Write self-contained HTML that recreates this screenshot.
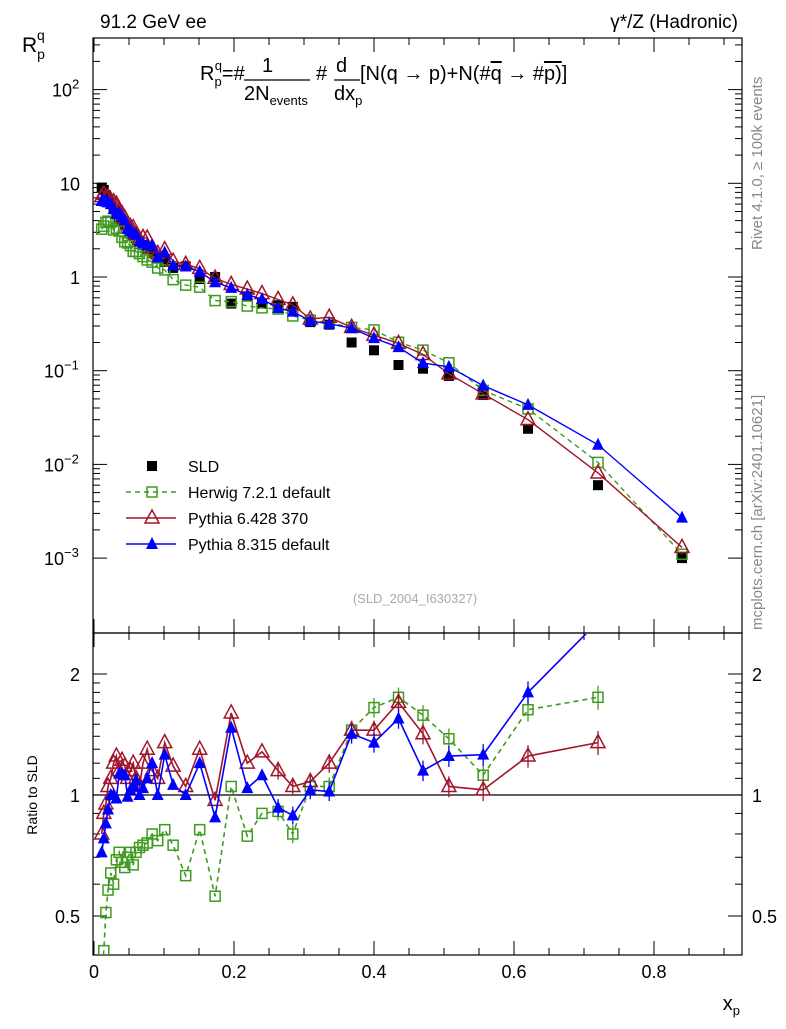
<!DOCTYPE html>
<html><head><meta charset="utf-8"><style>
body{margin:0;background:#fff;}
svg{font-family:"Liberation Sans",sans-serif;}
</style></head><body>
<svg id="c" width="786" height="1024" xmlns="http://www.w3.org/2000/svg">
<rect x="93" y="38" width="649" height="595" fill="none" stroke="#000" stroke-width="1.2"/>
<rect x="93" y="633" width="649" height="322" fill="none" stroke="#000" stroke-width="1.2"/>
<text x="100" y="28" font-size="19">91.2 GeV ee</text>
<text x="738" y="28" font-size="19" text-anchor="end">γ*/Z (Hadronic)</text>
<text x="22" y="52" font-size="21">R<tspan font-size="14" dy="7">p</tspan><tspan font-size="14" dx="-8" dy="-19">q</tspan></text>
<text x="200" y="80" font-size="20">R<tspan font-size="13" dy="6">p</tspan><tspan font-size="13" dx="-7" dy="-16">q</tspan><tspan dy="10">=#</tspan></text>
<text x="262" y="72" font-size="20">1</text>
<line x1="244" y1="80" x2="310" y2="80" stroke="#000" stroke-width="1.2"/>
<text x="244" y="100" font-size="20">2N<tspan font-size="13" dy="5">events</tspan></text>
<text x="316" y="80" font-size="20">#</text>
<text x="336" y="72" font-size="20">d</text>
<line x1="334" y1="80" x2="360" y2="80" stroke="#000" stroke-width="1.2"/>
<text x="334" y="100" font-size="20">dx<tspan font-size="13" dy="5">p</tspan></text>
<text x="360" y="80" font-size="20">[N(q → p)+N(#<tspan text-decoration="overline">q</tspan> → #<tspan text-decoration="overline">p)</tspan>]</text>
<text x="762" y="250" font-size="15" fill="#888" transform="rotate(-90 762 250)">Rivet 4.1.0, ≥ 100k events</text>
<text x="762" y="630" font-size="15" fill="#888" transform="rotate(-90 762 630)">mcplots.cern.ch [arXiv:2401.10621]</text>
<text x="415" y="603" font-size="13" fill="#aaa" text-anchor="middle">(SLD_2004_I630327)</text>
<text x="37" y="795" font-size="14" transform="rotate(-90 37 795)" text-anchor="middle">Ratio to SLD</text>
<text x="740" y="1010" font-size="20" text-anchor="end">x<tspan font-size="13" dy="5">p</tspan></text>
<g id="axes"></g><g id="plot"></g><g id="legend"></g>
</svg>
<script>
const xs=[0.011,0.014,0.017,0.02,0.024,0.028,0.032,0.036,0.04,0.044,0.048,0.052,0.056,0.06,0.065,0.07,0.076,0.083,0.091,0.101,0.113,0.131,0.151,0.173,0.196,0.219,0.24,0.263,0.284,0.309,0.336,0.368,0.40,0.435,0.47,0.507,0.556,0.62,0.72,0.84];
const sld=[9.0,8.5,7.5,6.8,6.0,5.3,4.8,4.3,3.9,3.6,3.3,3.0,2.8,2.6,2.4,2.2,2.0,1.8,1.62,1.45,1.25,1.3,0.95,1.0,0.52,0.62,0.52,0.5,0.48,0.33,0.31,0.2,0.165,0.115,0.105,0.088,0.055,0.024,0.006,0.001];
const ratioHerwig=[.36,.41,.51,.58,.64,.6,.69,.72,.68,.66,.7,.72,.67,.72,.74,.75,.76,.8,.77,.82,.75,.63,.82,.56,1.05,.79,.90,.91,.80,1.05,1.05,1.45,1.65,1.75,1.58,1.38,1.12,1.63,1.75,1.1];
const ratioPy6=[.8,.9,.95,1.05,1.1,1.2,1.25,1.15,1.22,1.18,1.1,1.15,1.2,1.1,1.05,1.2,1.3,1.15,1.1,1.35,1.18,1.05,1.3,0.97,1.6,1.2,1.28,1.15,1.05,1.08,1.2,1.45,1.45,1.7,1.42,1.05,1.03,1.25,1.35,1.3];
const ratioPy8=[.72,.78,.85,.92,1.0,1.0,.98,1.13,1.13,1.12,.99,1.03,1.05,1.09,1.0,1.04,1.1,1.2,1.0,1.26,1.06,1.0,1.2,0.88,1.47,1.04,1.12,0.93,0.89,1.03,1.02,1.42,1.35,1.55,1.15,1.25,1.26,1.8,2.7,2.7];
const xTicks=[0,0.2,0.4,0.6,0.8];
const xTickLabels=["0","0.2","0.4","0.6","0.8"];
const yDecades=[-3,-2,-1,0,1,2];
const yTickExp=["-3","-2","-1","","",""];
const yTickBase=["10","10","10","1","10","10"];
const yTickSup=["−3","−2","−1","","","2"];
const rTicks=[0.5,1,2];
const rTickLabels=["0.5","1","2"];

const NS="http://www.w3.org/2000/svg";
const X=v=>94+700*v;
const Y=v=>277-93.7*Math.log10(v);
const R=r=>795-121*Math.log2(r);
function mk(tag,attrs,parent){const e=document.createElementNS(NS,tag);for(const k in attrs)e.setAttribute(k,attrs[k]);parent.appendChild(e);return e;}
const ax=document.getElementById('axes'),pl=document.getElementById('plot'),lg=document.getElementById('legend');
for(let v=0;v<=0.92;v+=0.05){const maj=Math.abs(v/0.2-Math.round(v/0.2))<1e-6;const l=maj?14:7;
 for(const [yb,yt] of [[633,38],[955,633]]){mk('line',{x1:X(v),x2:X(v),y1:yb,y2:yb-l,stroke:'#000'},ax);mk('line',{x1:X(v),x2:X(v),y1:yt,y2:yt+l,stroke:'#000'},ax);}}
xTicks.forEach((v,i)=>{const t=mk('text',{x:X(v),y:978,'font-size':18,'text-anchor':'middle'},ax);t.textContent=xTickLabels[i];

});
yDecades.forEach((d,i)=>{for(let m=1;m<10;m++){const y=Y(m*Math.pow(10,d));if(y<38||y>633)continue;const l=m==1?14:7;
 mk('line',{x1:93,x2:93+l,y1:y,y2:y,stroke:'#000'},ax);mk('line',{x1:742,x2:742-l,y1:y,y2:y,stroke:'#000'},ax);}
 const sup=yTickSup[i];
 const t=mk('text',{x:sup?(80-(sup.length*8)):80,y:Y(Math.pow(10,d))+7,'font-size':18,'text-anchor':'end'},ax);t.textContent=yTickBase[i];
 
 
 if(sup){const s=mk('text',{x:80-sup.length*8,y:Y(Math.pow(10,d))-1,'font-size':13},ax);s.textContent=sup;}
});
[0.5,0.6,0.7,0.8,0.9,1,1.1,1.2,1.3,1.4,1.5,1.6,1.7,1.8,1.9,2].forEach(r=>{const y=R(r);const l=(r==0.5||r==1||r==2)?14:7;
 mk('line',{x1:93,x2:93+l,y1:y,y2:y,stroke:'#000'},ax);mk('line',{x1:742,x2:742-l,y1:y,y2:y,stroke:'#000'},ax);});
rTicks.forEach((r,i)=>{const t=mk('text',{x:80,y:R(r)+7,'font-size':18,'text-anchor':'end'},ax);t.textContent=rTickLabels[i];


const t2=mk('text',{x:752,y:R(r)+7,'font-size':18},ax);t2.textContent=rTickLabels[i];

});
mk('line',{x1:93,x2:742,y1:R(1),y2:R(1),stroke:'#000','stroke-width':1.2},ax);
const defs=mk('defs',{},pl);
const c1=mk('clipPath',{id:'cm'},defs);mk('rect',{x:93,y:38,width:649,height:595},c1);
const c2=mk('clipPath',{id:'cr'},defs);mk('rect',{x:93,y:634,width:649,height:321},c2);
const gm=mk('g',{'clip-path':'url(#cm)'},pl),gr=mk('g',{'clip-path':'url(#cr)'},pl);
function marker(g,type,x,y,col){
 if(type=='sq')return mk('rect',{x:x-5,y:y-5,width:10,height:10,fill:'#000'},g);
 if(type=='osq')return mk('rect',{x:x-5,y:y-5,width:10,height:10,fill:'none',stroke:col,'stroke-width':1.5},g);
 if(type=='otri')return mk('polygon',{points:`${x},${y-8} ${x-7},${y+5} ${x+7},${y+5}`,fill:'none',stroke:col,'stroke-width':1.5},g);
 return mk('polygon',{points:`${x},${y-7} ${x-6},${y+5} ${x+6},${y+5}`,fill:col},g);}
const series=[{n:'herwig',r:ratioHerwig,col:'#3f9a1f',m:'osq',dash:'5,4',lastRatio:false},
 {n:'pythia6',r:ratioPy6,col:'#a0152a',m:'otri',dash:'',lastRatio:false},
 {n:'pythia8',r:ratioPy8,col:'#0000ff',m:'tri',dash:'',lastRatio:true}];
sld.forEach((v,i)=>{const e=marker(gm,'sq',X(xs[i]),Y(v));

});
series.forEach(s=>{
 const vals=sld.map((v,i)=>v*s.r[i]);
 const p=mk('polyline',{points:vals.map((v,i)=>X(xs[i])+','+Y(v)).join(' '),fill:'none',stroke:s.col,'stroke-width':1.4,'stroke-dasharray':s.dash},gm);
 
 
 vals.forEach((v,i)=>{const e=marker(gm,s.m,X(xs[i]),Y(v),s.col);
 
 });
 const n=s.lastRatio?xs.length:xs.length-1;
 const rp=mk('polyline',{points:s.r.slice(0,n).map((r,i)=>X(xs[i])+','+R(r)).join(' '),fill:'none',stroke:s.col,'stroke-width':1.6,'stroke-dasharray':s.dash},gr);
 
 
 s.r.slice(0,n).forEach((r,i)=>{const x=X(xs[i]),y=R(r);
  if(y<640)return;
  if(xs[i]>0.25){const eb=r*0.04*(1+xs[i]);mk('line',{x1:x,x2:x,y1:R(r+eb),y2:R(r-eb),stroke:s.col,'stroke-width':1.3},gr);}
  const e=marker(gr,s.m,x,y,s.col);
  
  });
});
const L=[['SLD','sq','#000',''],['Herwig 7.2.1 default','osq','#3f9a1f','5,4'],['Pythia 6.428 370','otri','#a0152a',''],['Pythia 8.315 default','tri','#0000ff','']];
L.forEach((l,i)=>{const y=466+26*i;const g=mk('g',{},lg);
 
 
 if(i>0)mk('line',{x1:126,x2:176,y1:y,y2:y,stroke:l[2],'stroke-width':1.4,'stroke-dasharray':l[3]},g);
 marker(g,l[1],152,y,l[2]);
 const t=mk('text',{x:188,y:y+6,'font-size':16},g);t.textContent=l[0];});
</script>
</body></html>
